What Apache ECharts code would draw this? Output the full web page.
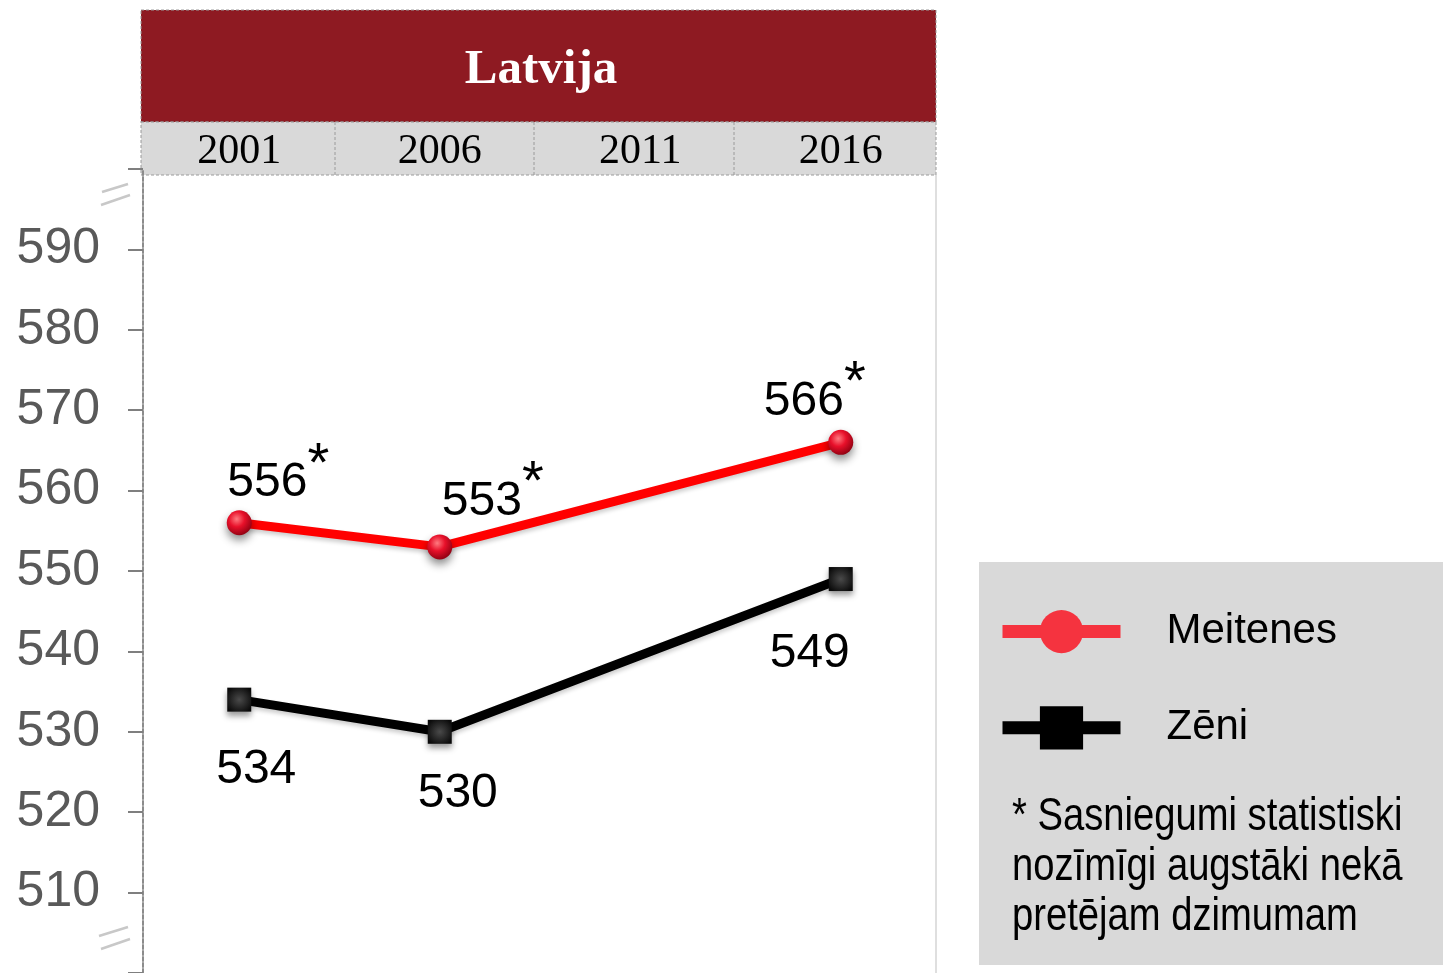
<!DOCTYPE html>
<html>
<head>
<meta charset="utf-8">
<script src="https://cdn.jsdelivr.net/npm/echarts@6/dist/echarts.min.js"></script>
<style>
  html, body { margin: 0; padding: 0; background: #fff; }
  #chart { width: 1443px; height: 973px; }
</style>
</head>
<body>
<div id="chart"></div>
<script>
// dati
const years = ['2001', '2006', '2011', '2016']
const meitenes = [556, 553, null, 566]
const zeni = [534, 530, null, 549]
const meitenesStars = ['*', '*', '', '*']
const yTicks = [510, 520, 530, 540, 550, 560, 570, 580, 590]
const noteLines = ['* Sasniegumi statistiski', 'nozīmīgi augstāki nekā', 'pretējam dzimumam']

const serif = '"Liberation Serif", "DejaVu Serif", serif'
const sans = '"Liberation Sans", Arial, sans-serif'

// etiķešu novietojums katram punktam
const redLabelOffsets = [[39, -3], [53, -9], [-26, -4]]
const blackLabelOffsets = [[17, 22], [18, 14], [-31, 27]]

const chart = echarts.init(document.getElementById('chart'))

function redData() {
  let k = 0
  return meitenes.map((v, i) => {
    if (v == null) return null
    const off = redLabelOffsets[k++]
    return {
      value: v,
      label: {
        show: true,
        position: 'top',
        distance: 0,
        offset: off,
        formatter: '{a|' + v + '}{b|' + meitenesStars[i] + '}',
        rich: {
          a: { fontSize: 48, fontFamily: sans, color: '#000', lineHeight: 56, verticalAlign: 'bottom' },
          b: { fontSize: 56, fontFamily: sans, color: '#000', lineHeight: 56, verticalAlign: 'bottom', padding: [0, 0, 14, 0] }
        }
      }
    }
  })
}

function blackData() {
  let k = 0
  return zeni.map(v => {
    if (v == null) return null
    const off = blackLabelOffsets[k++]
    return {
      value: v,
      label: {
        show: true,
        position: 'bottom',
        distance: 12,
        offset: off,
        fontSize: 48,
        fontFamily: sans,
        color: '#000'
      }
    }
  })
}

const option = {
  animation: false,
  backgroundColor: '#fff',
  grid: { left: 139, right: 502, top: 169, height: 806 },
  xAxis: {
    type: 'category',
    position: 'top',
    data: years,
    boundaryGap: true,
    axisLine: { show: false },
    axisTick: { show: false },
    axisLabel: { margin: -4, fontSize: 42, fontFamily: serif, color: '#000' },
    splitLine: { show: false }
  },
  yAxis: {
    type: 'value',
    min: 500,
    max: 600,
    interval: 10,
    offset: -4,
    axisLine: { show: true, lineStyle: { color: '#8c8c8c', width: 2, type: [4, 2] } },
    axisTick: { show: true, inside: false, length: 15, lineStyle: { color: '#7f7f7f', width: 2 } },
    axisLabel: {
      margin: 43,
      fontSize: 50,
      fontFamily: sans,
      color: '#595959',
      padding: [12, 0, 0, 0],
      formatter: v => (yTicks.indexOf(v) >= 0 ? String(v) : '')
    },
    splitLine: { show: false }
  },
  legend: {
    orient: 'vertical',
    left: 996,
    top: 610,
    itemWidth: 118,
    itemHeight: 54,
    itemGap: 53,
    padding: 0,
    textStyle: { fontSize: 42, fontFamily: sans, color: '#000', padding: [40, 0, 0, 41] },
    data: [
      { name: 'Meitenes', itemStyle: { color: '#f5333f', borderWidth: 0, shadowBlur: 0, shadowOffsetY: 0 }, lineStyle: { color: '#f5333f', width: 13, shadowBlur: 0, shadowOffsetY: 0 } },
      { name: 'Zēni', itemStyle: { color: '#000', borderWidth: 0, shadowBlur: 0, shadowOffsetY: 0 }, lineStyle: { color: '#000', width: 13, shadowBlur: 0, shadowOffsetY: 0 } }
    ]
  },
  graphic: [
    // virsraksta josla
    { type: 'rect', shape: { x: 141, y: 10, width: 795, height: 112 }, style: { fill: '#8e1a22', stroke: '#9a9a9a', lineWidth: 1, lineDash: [3, 2] }, z: 0 },
    { type: 'text', x: 541, y: 70, style: { text: 'Latvija', fill: '#fff', font: 'bold 49px ' + serif, textAlign: 'center', textVerticalAlign: 'middle' }, z: 1 },
    // gadu josla
    { type: 'rect', shape: { x: 141, y: 122, width: 795, height: 53 }, style: { fill: '#d9d9d9', stroke: '#9a9a9a', lineWidth: 1, lineDash: [3, 2] }, z: 0 },
    { type: 'line', shape: { x1: 335, y1: 122, x2: 335, y2: 175 }, style: { stroke: '#9a9a9a', lineWidth: 1, lineDash: [3, 2] }, z: 1 },
    { type: 'line', shape: { x1: 534, y1: 122, x2: 534, y2: 175 }, style: { stroke: '#9a9a9a', lineWidth: 1, lineDash: [3, 2] }, z: 1 },
    { type: 'line', shape: { x1: 734, y1: 122, x2: 734, y2: 175 }, style: { stroke: '#9a9a9a', lineWidth: 1, lineDash: [3, 2] }, z: 1 },
    // labā robeža
    { type: 'line', shape: { x1: 936, y1: 175, x2: 936, y2: 973 }, style: { stroke: '#d4d4d4', lineWidth: 1.5 } },
    // ass pārrāvuma zīmes
    { type: 'line', shape: { x1: 102, y1: 192, x2: 128, y2: 184 }, style: { stroke: '#c8c8c8', lineWidth: 2.5 } },
    { type: 'line', shape: { x1: 101, y1: 205, x2: 130, y2: 195 }, style: { stroke: '#c8c8c8', lineWidth: 2.5 } },
    { type: 'line', shape: { x1: 99, y1: 936, x2: 128, y2: 927 }, style: { stroke: '#c8c8c8', lineWidth: 2.5 } },
    { type: 'line', shape: { x1: 101, y1: 949, x2: 130, y2: 939 }, style: { stroke: '#c8c8c8', lineWidth: 2.5 } },
    // leģendas fons un piezīme
    { type: 'rect', shape: { x: 979, y: 562, width: 464, height: 403 }, style: { fill: '#d9d9d9' }, z: -10 },
    { type: 'text', x: 1012, y: 792, scaleX: 0.83, style: { text: noteLines.join('\n'), fill: '#000', font: '46px ' + sans, lineHeight: 50 }, z: 1 }
  ],
  series: [
    {
      name: 'Meitenes',
      type: 'line',
      data: redData(),
      connectNulls: true,
      symbol: 'circle',
      symbolSize: 25,
      lineStyle: { color: '#ff0000', width: 9, shadowBlur: 4, shadowColor: 'rgba(0,0,0,0.2)', shadowOffsetY: 3 },
      itemStyle: {
        color: {
          type: 'radial', x: 0.4, y: 0.35, r: 0.7,
          colorStops: [
            { offset: 0, color: '#ff7a80' },
            { offset: 0.45, color: '#e8102a' },
            { offset: 1, color: '#8a0010' }
          ]
        },
        shadowBlur: 8,
        shadowColor: 'rgba(0,0,0,0.45)',
        shadowOffsetY: 5
      },
      z: 3
    },
    {
      name: 'Zēni',
      type: 'line',
      data: blackData(),
      connectNulls: true,
      symbol: 'rect',
      symbolSize: 24,
      lineStyle: { color: '#000', width: 9, shadowBlur: 4, shadowColor: 'rgba(0,0,0,0.2)', shadowOffsetY: 3 },
      itemStyle: {
        color: {
          type: 'radial', x: 0.5, y: 0.5, r: 0.6,
          colorStops: [
            { offset: 0, color: '#4a4a4a' },
            { offset: 1, color: '#0a0a0a' }
          ]
        },
        shadowBlur: 6,
        shadowColor: 'rgba(0,0,0,0.4)',
        shadowOffsetY: 4
      },
      z: 3
    }
  ]
}

chart.setOption(option)
</script>
</body>
</html>
